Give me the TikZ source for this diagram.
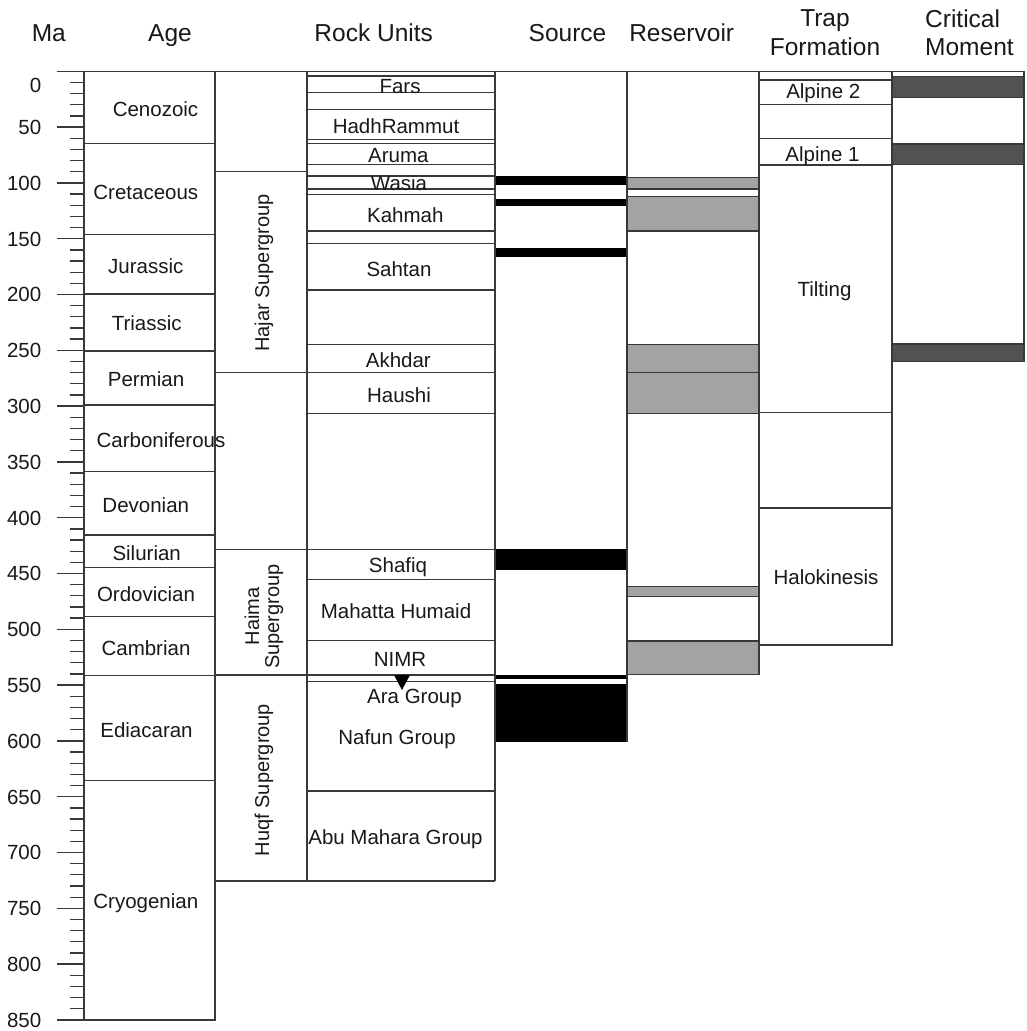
\documentclass[tikz,border=0pt]{standalone}
\usepackage{fontspec}
\setmainfont{Liberation Sans}
\begin{document}
\begin{tikzpicture}[x=1pt,y=-1pt,
  ln/.style={line width=1.3pt, draw=black!78},
  lbl/.style={font=\fontsize{20.5}{24}\selectfont, inner sep=0pt, anchor=base, text=black!90},
  hdr/.style={font=\fontsize{24.5}{29}\selectfont, inner sep=0pt, anchor=base, text=black!90},
  rot/.style={font=\fontsize{20}{23}\selectfont, inner sep=0pt, anchor=center, rotate=90, align=center, text=black!90},
  resbox/.style={ln, fill=black!36},
  srcbar/.style={fill=black, draw=black, line width=0.6pt},
  critbox/.style={ln, fill=black!68},
  ticklbl/.style={font=\fontsize{20.5}{24}\selectfont, inner sep=0pt, anchor=base east, text=black!90}]
\useasboundingbox (0,0) rectangle (1026,1031);
\fill[white] (0,0) rectangle (1026,1031);

% ---------------- headers ----------------
\node[hdr] (hMa) at (48.8,41.7) {Ma};
\node[hdr] (hAge) at (170,41.7) {Age};
\node[hdr] (hRock) at (373.7,41.7) {Rock Units};
\node[hdr] (hSrc) at (567.5,41.7) {Source};
\node[hdr] (hRes) at (681.7,41.7) {Reservoir};
\node[hdr] (hTrap1) at (825,26.7) {Trap};
\node[hdr] (hTrap2) at (825,55) {Formation};
\node[hdr,anchor=base west] (hCrit1) at (925,27) {Critical};
\node[hdr,anchor=base west] (hCrit2) at (925,55) {Moment};

% ---------------- fills ----------------
% source rock intervals
\foreach \a/\b in {176.7/184.3, 199.3/205.7, 248.3/256.7, 549.3/569, 675/678.3, 684/741.7}
  \draw[srcbar] (495,\a) rectangle (627,\b);
% reservoir intervals
\foreach \a/\b in {177.3/189, 196.7/231, 344.3/372.3, 372.3/413.3, 586.7/596.7, 641/674.3}
  \draw[resbox] (627,\a) rectangle (759,\b);
% critical moments
\foreach \a/\b in {76.7/97.3, 144/164.7, 344/361.7}
  \draw[critbox] (892,\a) rectangle (1024,\b);

% ---------------- axis ----------------
\foreach \m in {10,20,...,850}{
  \pgfmathsetmacro\yy{71.3+1.116*\m}
  \pgfmathtruncatemacro\r{mod(\m,50)}
  \ifnum\r=0
    \draw[ln] (57,\yy) -- (84,\yy);
  \else
    \draw[ln] (70,\yy) -- (84,\yy);
  \fi
}
\node[ticklbl] (t0) at (41.5,92.3) {0};
\foreach \m in {50,100,...,850}{
  \pgfmathsetmacro\yy{71.3+1.116*\m+7.3}
  \node[ticklbl] (t\m) at (41.5,\yy) {\m};
}

% ---------------- frame lines ----------------
\draw[ln] (57,71.3) -- (1024,71.3);
% Age column
\draw[ln] (84,71.3) rectangle (215,1020);
\draw[ln] (57,1020) -- (84,1020);
\foreach \y in {143.7,234.3,294,351,405,471.7,535,567.7,616.3,675.7,780.3}
  \draw[ln] (84,\y) -- (215,\y);
% Supergroup column
\draw[ln] (307,71.3) -- (307,881);
\foreach \y in {171.3,549.3,675}
  \draw[ln] (215,\y) -- (307,\y);
\draw[ln] (215,372.3) -- (495,372.3);
\draw[ln] (215,881) -- (495,881);
% Rock units column
\draw[ln] (495,71.3) -- (495,881);
\foreach \y in {76,92.7,109.3,139.3,143.3,164.3,176,189,194.3,231,243.3,290,344.3,413.3,549.3,579.3,640.7,675,681.7,791}
  \draw[ln] (307,\y) -- (495,\y);
% Source column
\draw[ln] (627,71.3) -- (627,741.7);
% Reservoir / trap columns
\draw[ln] (759,71.3) -- (759,674.3);
\draw[ln] (892,71.3) -- (892,645);
\draw[ln] (759,80) rectangle (892,104.3);
\draw[ln] (759,138.3) rectangle (892,165);
\draw[ln] (759,165) rectangle (892,412.7);
\draw[ln] (759,508) rectangle (892,645);
% Critical moment column
\draw[ln] (1024,71.3) -- (1024,361.7);

% Ara Group marker
\fill[black] (394,675) -- (410,675) -- (402,690) -- cycle;

% ---------------- labels ----------------
\node[lbl] (aCen) at (155.5,116) {Cenozoic};
\node[lbl] (aCre) at (145.8,199.3) {Cretaceous};
\node[lbl] (aJur) at (145.8,273.3) {Jurassic};
\node[lbl] (aTri) at (146.7,330.7) {Triassic};
\node[lbl] (aPer) at (146,386.7) {Permian};
\node[lbl] (aCar) at (161,447.3) {Carboniferous};
\node[lbl] (aDev) at (145.8,512.7) {Devonian};
\node[lbl] (aSil) at (146.7,560) {Silurian};
\node[lbl] (aOrd) at (146,601.7) {Ordovician};
\node[lbl] (aCam) at (146,655) {Cambrian};
\node[lbl] (aEdi) at (146.5,737.3) {Ediacaran};
\node[lbl] (aCry) at (145.8,908) {Cryogenian};

\node[rot] (sHajar) at (264,273) {Hajar Supergroup};
\node[rot] (sHaima) at (264,616.5) {Haima\\[-3pt]Supergroup};
\node[rot] (sHuqf) at (264,780) {Huqf Supergroup};

\node[lbl] (rFars) at (400,93.3) {Fars};
\node[lbl] (rHadh) at (396,133.3) {HadhRammut};
\node[lbl] (rAru) at (398.3,162.7) {Aruma};
\node[lbl] (rWas) at (399,190.5) {Wasia};
\node[lbl] (rKah) at (405.3,222.7) {Kahmah};
\node[lbl] (rSah) at (399,276.7) {Sahtan};
\node[lbl] (rAkh) at (398.3,367.7) {Akhdar};
\node[lbl] (rHau) at (399,402.3) {Haushi};
\node[lbl] (rSha) at (398,572.5) {Shafiq};
\node[lbl] (rMah) at (396,618.3) {Mahatta Humaid};
\node[lbl] (rNim) at (400,666) {NIMR};
\node[lbl] (rAra) at (414.5,703) {Ara Group};
\node[lbl] (rNaf) at (397,744.7) {Nafun Group};
\node[lbl] (rAbu) at (395.5,844.7) {Abu Mahara Group};

\node[lbl] (tAlp2) at (823.3,98) {Alpine 2};
\node[lbl] (tAlp1) at (822.5,161.4) {Alpine 1};
\node[lbl] (tTil) at (824.5,296.4) {Tilting};
\node[lbl] (tHal) at (826,584) {Halokinesis};
\end{tikzpicture}
\end{document}
